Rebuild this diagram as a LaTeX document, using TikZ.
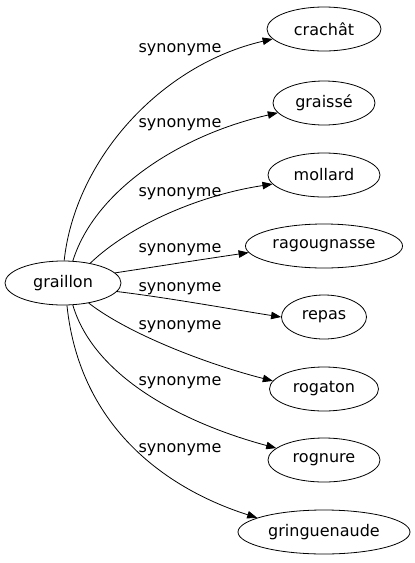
\documentclass[tikz,border=0pt]{standalone}
\usepackage{fontspec}
\setmainfont{DejaVu Sans}
\usetikzlibrary{shapes.geometric,arrows.meta}
\begin{document}
\begin{tikzpicture}[x=1pt,y=-1pt,
  every node/.style={font=\fontsize{16}{19}\selectfont},
  word/.style={draw,ellipse,inner sep=0pt,line width=0.8pt},
  lbl/.style={inner sep=0pt},
  syn/.style={line width=0.8pt,-{Triangle[length=10pt,width=7.5pt]}}]
\useasboundingbox (0,0) rectangle (415,563);
\node[word,minimum width=116pt,minimum height=44pt] (g) at (63,283) {graillon};
\node[word,minimum width=114pt,minimum height=44pt] (t1) at (324,29) {crachât};
\node[word,minimum width=102pt,minimum height=44pt] (t2) at (324,103) {graissé};
\node[word,minimum width=112pt,minimum height=44pt] (t3) at (324,175) {mollard};
\node[word,minimum width=157pt,minimum height=44pt] (t4) at (324,246) {ragougnasse};
\node[word,minimum width=85pt,minimum height=44pt] (t5) at (324,317) {repas};
\node[word,minimum width=109pt,minimum height=44pt] (t6) at (324,389) {rogaton};
\node[word,minimum width=112pt,minimum height=44pt] (t7) at (324,460) {rognure};
\node[word,minimum width=172pt,minimum height=44pt] (t8) at (324,532) {gringuenaude};
\node[lbl] (l1) at (180,50) {synonyme};
\node[lbl] (l2) at (180,125) {synonyme};
\node[lbl] (l3) at (180,194) {synonyme};
\node[lbl] (l4) at (180,250) {synonyme};
\node[lbl] (l5) at (180,289) {synonyme};
\node[lbl] (l6) at (180,327) {synonyme};
\node[lbl] (l7) at (180,383) {synonyme};
\node[lbl] (l8) at (180,450) {synonyme};
\draw[syn] (g.87) .. controls (75,160) and (160,65) .. (t1.191);
\draw[syn] (g.66) .. controls (95,190) and (180,135) .. (t2.192);
\draw[syn] (g.36) .. controls (130,225) and (200,195) .. (t3.190);
\draw[syn] (g.11) .. controls (160,266) and (205,259) .. (t4.185);
\draw[syn] (g.351) .. controls (170,298) and (230,309) .. (t5.180);
\draw[syn] (g.322) .. controls (130,335) and (210,365) .. (t6.171);
\draw[syn] (g.294) .. controls (95,380) and (190,425) .. (t7.166);
\draw[syn] (g.280) .. controls (80,430) and (170,490) .. (t8.168);
\end{tikzpicture}
\end{document}
